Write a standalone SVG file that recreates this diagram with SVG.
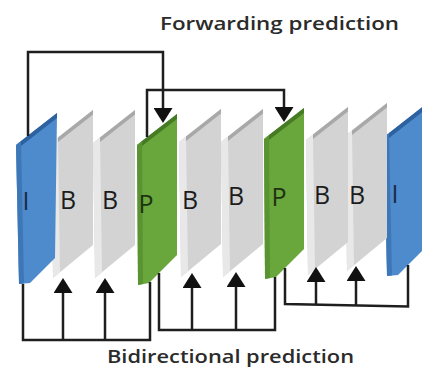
<svg xmlns="http://www.w3.org/2000/svg" xmlns:xlink="http://www.w3.org/1999/xlink" width="422" height="367" viewBox="0 0 422 367">
  <style>
    .bg { fill: #ffffff; }
    .b-face { fill: #d3d3d3; }
    .b-side { fill: #e8e8e8; }
    .b-top { fill: #a8a8a8; }
    .p-face { fill: #69a63c; }
    .p-side { fill: #5a9432; }
    .p-top { fill: #477a25; }
    .i-face { fill: #4d8bcd; }
    .i-side { fill: #3e77b8; }
    .i-top { fill: #2d61a0; }
    .lbl { font-family: "Open Sans", "Liberation Sans", sans-serif; font-size: 25px; font-weight: 500; fill: #1c1c1c; text-anchor: middle; }
    .lbl-i { fill: #1b2c44; }
    .lbl-p { fill: #1f3311; }
    .cap { font-family: "Open Sans", "Liberation Sans", sans-serif; font-size: 18.5px; font-weight: 600; fill: #2b2b2b; }
    .wire { fill: none; stroke: #1e1e1e; stroke-width: 2.5; }
    .arrow { fill: none; stroke: #1e1e1e; stroke-width: 2.5; marker-end: url(#head); }
  </style>
  <defs>
    <marker id="head" markerUnits="userSpaceOnUse" viewBox="0 0 15 19" markerWidth="15" markerHeight="19" refX="12" refY="9.5" orient="auto">
      <path d="M0,0 L15,9.5 L0,19 Z" fill="#111"/>
    </marker>
    <!-- B frame slab, origin at top-left corner -->
    <g id="slabB">
      <polygon class="b-face" points="0,0 42,-33 42,102 2,135"/>
      <polygon class="b-side" points="0,0 7,-5.5 9,129.2 2,135"/>
      <polygon class="b-top" points="7,-5.5 42,-33 42,-28.5 7,-1"/>
    </g>
    <!-- P frame slab -->
    <g id="slabP">
      <polygon class="p-face" points="0,0 40,-31 40,110 12,138 1,140"/>
      <polygon class="p-side" points="0,0 5,-3.9 6,139.1 1,140"/>
      <polygon class="p-top" points="5,-3.9 40,-31 40,-26 5,1.1"/>
    </g>
    <!-- I frame slab -->
    <g id="slabI">
      <polygon class="i-face" points="0,0 41,-32 39,113 14,138 3,139"/>
      <polygon class="i-side" points="0,0 5,-3.9 8,138.5 3,139"/>
      <polygon class="i-top" points="5,-3.9 41,-32 41,-27 5,1.1"/>
    </g>
  </defs>

  <rect class="bg" x="0" y="0" width="422" height="367"/>

  <text class="cap" x="160" y="30" textLength="239" lengthAdjust="spacingAndGlyphs">Forwarding prediction</text>
  <text class="cap" x="107" y="363" textLength="247" lengthAdjust="spacingAndGlyphs">Bidirectional prediction</text>

  <!-- frames, drawn right to left so the left slabs sit in front -->
  <g id="frame-I2"><use xlink:href="#slabI" x="384" y="137"/><text class="lbl lbl-i" x="395" y="203">I</text></g>
  <g id="frame-B6"><use xlink:href="#slabB" x="345" y="136"/><text class="lbl" x="357" y="204">B</text></g>
  <g id="frame-B5"><use xlink:href="#slabB" x="306" y="140"/><text class="lbl" x="322" y="204">B</text></g>
  <g id="frame-P2"><use xlink:href="#slabP" x="264" y="139"/><text class="lbl lbl-p" x="279" y="206">P</text></g>
  <g id="frame-B4"><use xlink:href="#slabB" x="221" y="142"/><text class="lbl" x="236" y="205">B</text></g>
  <g id="frame-B3"><use xlink:href="#slabB" x="179" y="142"/><text class="lbl" x="190" y="209">B</text></g>
  <g id="frame-P1"><use xlink:href="#slabP" x="137" y="145"/><text class="lbl lbl-p" x="146" y="213">P</text></g>
  <g id="frame-B2"><use xlink:href="#slabB" x="93" y="143"/><text class="lbl" x="110" y="209">B</text></g>
  <g id="frame-B1"><use xlink:href="#slabB" x="51" y="143"/><text class="lbl" x="68" y="209">B</text></g>
  <g id="frame-I1"><use xlink:href="#slabI" x="16" y="145"/><text class="lbl lbl-i" x="26" y="210">I</text></g>

  <g id="connectors">
    <!-- forward prediction: I -> P, P -> P -->
    <path class="arrow" d="M28,136 V52 H163 V120"/>
    <path class="arrow" d="M147,137 V90 H284 V119"/>
    <!-- bidirectional prediction: I ... P -->
    <path class="wire" d="M23,284 V340 H150 V282"/>
    <path class="arrow" d="M63,340 V281"/>
    <path class="arrow" d="M105,340 V281"/>
    <!-- P ... P -->
    <path class="wire" d="M159,273 V330 H275 V277"/>
    <path class="arrow" d="M192,330 V276"/>
    <path class="arrow" d="M236,330 V275"/>
    <!-- P ... I -->
    <path class="wire" d="M285,268 V304 L408,306.5 V265"/>
    <path class="arrow" d="M316,304.5 V270"/>
    <path class="arrow" d="M356,305 V269"/>
  </g>
</svg>
